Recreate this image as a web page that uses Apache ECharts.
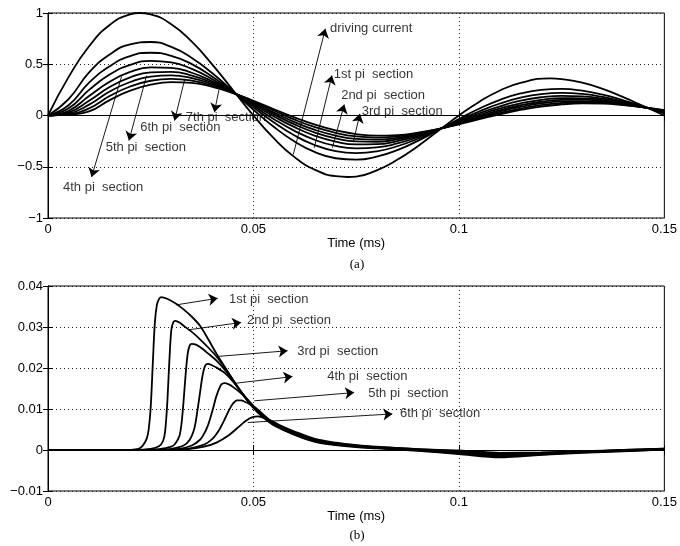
<!DOCTYPE html>
<html>
<head>
<meta charset="utf-8">
<script src="https://cdn.jsdelivr.net/npm/echarts@6/dist/echarts.min.js"></script>
<style>
  html, body { margin: 0; background: #fff; }
  #chart { width: 680px; height: 546px; }
</style>
</head>
<body>
<div id="chart"></div>
<script>
// (a) pi-section currents, sampled every 0.005 ms
const timeA = [0, 0.005, 0.01, 0.015, 0.02, 0.025, 0.03, 0.035, 0.04, 0.045, 0.05,
  0.055, 0.06, 0.065, 0.07, 0.075, 0.08, 0.085, 0.09, 0.095, 0.1,
  0.105, 0.11, 0.115, 0.12, 0.125, 0.13, 0.135, 0.14, 0.145, 0.15];
const sec1 = [0, 0.16, 0.42, 0.595, 0.694, 0.717, 0.669, 0.562, 0.412, 0.237, 0.056, -0.112, -0.254, -0.358, -0.417, -0.431, -0.402, -0.338, -0.247, -0.142, -0.034, 0.068, 0.153, 0.215, 0.250, 0.259, 0.242, 0.203, 0.148, 0.086, 0.020];
const sec2 = [0, 0.10, 0.32, 0.48, 0.580, 0.612, 0.582, 0.501, 0.378, 0.232, 0.079, -0.068, -0.195, -0.290, -0.348, -0.367, -0.350, -0.300, -0.227, -0.140, -0.047, 0.041, 0.117, 0.174, 0.209, 0.220, 0.210, 0.181, 0.136, 0.084, 0.028];
const sec3 = [0, 0.07, 0.25, 0.40, 0.494, 0.533, 0.518, 0.455, 0.354, 0.229, 0.095, -0.036, -0.150, -0.239, -0.297, -0.320, -0.311, -0.273, -0.212, -0.138, -0.057, 0.022, 0.090, 0.144, 0.178, 0.192, 0.187, 0.164, 0.127, 0.083, 0.034];
const sec4 = [0, 0.045, 0.19, 0.33, 0.425, 0.470, 0.465, 0.417, 0.333, 0.226, 0.108, -0.009, -0.114, -0.198, -0.255, -0.282, -0.280, -0.250, -0.200, -0.136, -0.065, 0.006, 0.069, 0.119, 0.153, 0.169, 0.168, 0.151, 0.120, 0.082, 0.039];
const sec5 = [0, 0.03, 0.144, 0.278, 0.372, 0.421, 0.425, 0.389, 0.318, 0.224, 0.119, 0.011, -0.087, -0.167, -0.223, -0.253, -0.256, -0.233, -0.191, -0.135, -0.071, -0.007, 0.052, 0.100, 0.134, 0.152, 0.154, 0.140, 0.114, 0.081, 0.043];
const sec6 = [0, 0.02, 0.106, 0.234, 0.327, 0.380, 0.391, 0.365, 0.305, 0.223, 0.127, 0.028, -0.064, -0.141, -0.196, -0.228, -0.235, -0.219, -0.183, -0.134, -0.076, -0.017, 0.038, 0.084, 0.118, 0.137, 0.141, 0.132, 0.110, 0.080, 0.046];
const sec7 = [0, 0.013, 0.07, 0.19, 0.283, 0.339, 0.357, 0.340, 0.292, 0.221, 0.136, 0.046, -0.041, -0.114, -0.169, -0.204, -0.215, -0.204, -0.175, -0.133, -0.081, -0.027, 0.024, 0.068, 0.102, 0.122, 0.129, 0.123, 0.105, 0.080, 0.049];
const sec8 = [0, 0.008, 0.04, 0.15, 0.242, 0.301, 0.326, 0.318, 0.280, 0.219, 0.144, 0.061, -0.019, -0.090, -0.145, -0.181, -0.196, -0.191, -0.168, -0.132, -0.086, -0.036, 0.012, 0.054, 0.087, 0.108, 0.118, 0.115, 0.101, 0.079, 0.052];

// driving current as [time, value], with its crests read where they sit
const driving = [[0, 0], [0.005, 0.374], [0.01, 0.675], [0.015, 0.883], [0.02, 0.987], [0.0222, 1.0],
  [0.025, 0.986], [0.03, 0.891], [0.035, 0.720], [0.04, 0.497], [0.045, 0.248], [0.05, 0.0],
  [0.055, -0.224], [0.06, -0.406], [0.065, -0.530], [0.07, -0.592], [0.073, -0.600], [0.075, -0.596],
  [0.08, -0.535], [0.085, -0.432], [0.09, -0.299], [0.095, -0.149], [0.1, 0.0], [0.105, 0.135],
  [0.11, 0.244], [0.115, 0.318], [0.1222, 0.362], [0.125, 0.355], [0.13, 0.321], [0.135, 0.260],
  [0.14, 0.179], [0.145, 0.090], [0.15, 0.0]];

// (b) section pulses as [time, value]
const pulse1 = [[0,0],[0.018,0],[0.022,0.0003],[0.023,0.001],[0.024,0.0027],[0.0245,0.005],[0.025,0.0105],[0.0255,0.021],[0.026,0.031],[0.0265,0.0354],[0.027,0.0368],[0.0275,0.0373],[0.029,0.0369],[0.031,0.0358],[0.033,0.0343],[0.035,0.0325],[0.037,0.0303],[0.039,0.0270],[0.041,0.0235],[0.043,0.0203],[0.045,0.0171],[0.047,0.0141],[0.049,0.0114],[0.051,0.0092],[0.053,0.0074],[0.055,0.0060],[0.06,0.0037],[0.065,0.0020],[0.07,0.0012],[0.075,0.0007],[0.08,0.0004],[0.09,-0.0002],[0.1,-0.0010],[0.11,-0.0018],[0.12,-0.0012],[0.13,-0.0007],[0.14,-0.0003],[0.15,0.0001]];
const pulse2 = [[0,0],[0.02,0],[0.025,0.0003],[0.027,0.0009],[0.028,0.0022],[0.0285,0.0045],[0.029,0.011],[0.0295,0.021],[0.03,0.0292],[0.0305,0.0312],[0.031,0.0315],[0.032,0.0311],[0.033,0.0303],[0.035,0.0288],[0.037,0.0270],[0.039,0.0250],[0.041,0.0228],[0.043,0.0201],[0.045,0.0172],[0.047,0.0142],[0.049,0.0116],[0.051,0.0094],[0.053,0.0076],[0.055,0.0061],[0.06,0.0038],[0.065,0.0021],[0.07,0.0013],[0.075,0.0008],[0.08,0.0005],[0.09,-0.0001],[0.1,-0.0008],[0.11,-0.0016],[0.12,-0.0011],[0.13,-0.0006],[0.14,-0.0002],[0.15,0.0001]];
const pulse3 = [[0,0],[0.022,0],[0.027,0.0002],[0.03,0.0008],[0.031,0.0016],[0.032,0.0035],[0.0325,0.0065],[0.033,0.012],[0.0335,0.0185],[0.034,0.0235],[0.0345,0.0255],[0.035,0.0259],[0.036,0.0257],[0.037,0.0251],[0.039,0.0235],[0.041,0.0218],[0.043,0.0196],[0.045,0.0170],[0.047,0.0142],[0.049,0.0117],[0.051,0.0095],[0.053,0.0077],[0.055,0.0062],[0.06,0.0039],[0.065,0.0022],[0.07,0.0014],[0.075,0.0009],[0.08,0.0005],[0.09,0.0000],[0.1,-0.0007],[0.11,-0.0014],[0.12,-0.0010],[0.13,-0.0005],[0.14,-0.0002],[0.15,0.0002]];
const pulse4 = [[0,0],[0.025,0],[0.03,0.0003],[0.033,0.0011],[0.0345,0.0025],[0.0355,0.0048],[0.036,0.0072],[0.0365,0.0105],[0.037,0.014],[0.0375,0.0175],[0.038,0.0199],[0.0385,0.0209],[0.039,0.0210],[0.04,0.0206],[0.041,0.0201],[0.043,0.0188],[0.045,0.0167],[0.047,0.0142],[0.049,0.0118],[0.051,0.0096],[0.053,0.0078],[0.055,0.0063],[0.06,0.0040],[0.065,0.0023],[0.07,0.0015],[0.075,0.0009],[0.08,0.0006],[0.09,0.0000],[0.1,-0.0006],[0.11,-0.0012],[0.12,-0.0009],[0.13,-0.0005],[0.14,-0.0001],[0.15,0.0002]];
const pulse5 = [[0,0],[0.027,0],[0.032,0.0003],[0.035,0.0011],[0.037,0.0025],[0.038,0.004],[0.039,0.0062],[0.04,0.0095],[0.041,0.0132],[0.042,0.0157],[0.0425,0.0162],[0.043,0.0163],[0.044,0.0160],[0.045,0.0154],[0.047,0.0138],[0.049,0.0118],[0.051,0.0097],[0.053,0.0079],[0.055,0.0064],[0.06,0.0041],[0.065,0.0024],[0.07,0.0015],[0.075,0.0010],[0.08,0.0006],[0.09,0.0001],[0.1,-0.0004],[0.11,-0.0010],[0.12,-0.0008],[0.13,-0.0004],[0.14,-0.0001],[0.15,0.0002]];
const pulse6 = [[0,0],[0.028,0],[0.034,0.0003],[0.038,0.0013],[0.04,0.0027],[0.041,0.0039],[0.042,0.0055],[0.043,0.0075],[0.044,0.0096],[0.045,0.0113],[0.046,0.0121],[0.047,0.0121],[0.048,0.0117],[0.049,0.0112],[0.051,0.0099],[0.053,0.0081],[0.055,0.0066],[0.06,0.0042],[0.065,0.0025],[0.07,0.0016],[0.075,0.0011],[0.08,0.0007],[0.09,0.0002],[0.1,-0.0003],[0.11,-0.0009],[0.12,-0.0007],[0.13,-0.0004],[0.14,0.0000],[0.15,0.0003]];
const pulse7 = [[0,0],[0.028,0],[0.034,0.0002],[0.038,0.0008],[0.041,0.0018],[0.044,0.0036],[0.046,0.0053],[0.048,0.0070],[0.049,0.0077],[0.05,0.0081],[0.051,0.0082],[0.052,0.0080],[0.054,0.0073],[0.057,0.0058],[0.06,0.0045],[0.065,0.0027],[0.07,0.0018],[0.075,0.0012],[0.08,0.0008],[0.09,0.0002],[0.1,-0.0001],[0.11,-0.0007],[0.12,-0.0006],[0.13,-0.0003],[0.14,0.0000],[0.15,0.0003]];

// annotations: [label, x, y] and arrows [fromX, fromY, toX, toY]
const notesA = [
  ["driving current", 0.0684, 0.846],
  ["1st pi  section", 0.0693, 0.40],
  ["2nd pi  section", 0.0711, 0.20],
  ["3rd pi  section", 0.0761, 0.04],
  ["7th pi  section", 0.0333, -0.016],
  ["6th pi  section", 0.0222, -0.12],
  ["5th pi  section", 0.0138, -0.31],
  ["4th pi  section", 0.0034, -0.70]
];
const arrowsA = [
  [0.0597, -0.38, 0.0675, 0.846],
  [0.0648, -0.315, 0.0691, 0.39],
  [0.0692, -0.315, 0.0721, 0.107],
  [0.0743, -0.26, 0.0759, 0.016],
  [0.0416, 0.25, 0.0405, 0.032],
  [0.0333, 0.358, 0.0308, -0.049],
  [0.024, 0.39, 0.0197, -0.244],
  [0.0179, 0.38, 0.0106, -0.60]
];
const notesB = [
  ["1st pi  section", 0.0438, 0.0368],
  ["2nd pi  section", 0.0482, 0.0315],
  ["3rd pi  section", 0.0604, 0.0241],
  ["4th pi  section", 0.0677, 0.0180],
  ["5th pi  section", 0.0777, 0.0137],
  ["6th pi  section", 0.0854, 0.0088]
];
const arrowsB = [
  [0.0312, 0.0354, 0.0413, 0.0370],
  [0.0341, 0.0293, 0.0470, 0.0311],
  [0.0410, 0.0228, 0.0583, 0.0242],
  [0.0458, 0.0163, 0.0595, 0.0179],
  [0.0502, 0.0120, 0.0745, 0.0140],
  [0.0486, 0.0067, 0.0838, 0.0088]
];

const FONT = "'Liberation Sans', Arial, Helvetica, sans-serif";
const minus = v => String(+v.toFixed(4)).replace("-", "\u2212");
const dotted = { show: true, lineStyle: { color: "#222", width: 1, type: [1, 3] } };

function xAxes(grid, nameGap) {
  const base = { type: "value", gridIndex: grid, min: 0, max: 0.15, interval: 0.05,
    axisLine: { lineStyle: { color: "#000", width: 1 } },
    axisTick: { inside: true, length: 5, lineStyle: { color: "#000" } } };
  return [
    Object.assign({}, base, {
      position: "bottom", name: "Time (ms)", nameLocation: "middle", nameGap,
      nameTextStyle: { color: "#000", fontSize: 13, fontFamily: FONT },
      axisLabel: { color: "#000", fontSize: 13, fontFamily: FONT, margin: 5, formatter: minus },
      splitLine: dotted
    }),
    Object.assign({}, base, { position: "top", axisLabel: { show: false }, splitLine: { show: false } })
  ];
}
function yAxes(grid, min, max, step) {
  const base = { type: "value", gridIndex: grid, min, max, interval: step,
    axisLine: { show: true, lineStyle: { color: "#000", width: 1 } },
    axisTick: { show: true, inside: true, length: 5, lineStyle: { color: "#000" } } };
  return [
    Object.assign({}, base, {
      position: "left",
      axisLabel: { color: "#000", fontSize: 13, fontFamily: FONT, margin: 5, formatter: minus },
      splitLine: dotted
    }),
    Object.assign({}, base, { position: "right", axisLabel: { show: false }, splitLine: { show: false } })
  ];
}

const lineStyle = { color: "#000", width: 1.8 };
function curve(data, xi, yi, smooth) {
  return { type: "line", xAxisIndex: xi, yAxisIndex: yi, data, smooth, showSymbol: false,
    symbol: "none", lineStyle, silent: true, animation: false, z: 3 };
}
function notes(list, arrows, xi, yi) {
  return {
    type: "scatter", xAxisIndex: xi, yAxisIndex: yi, symbolSize: 0, silent: true, animation: false, z: 4,
    data: list.map(n => ({ name: n[0], value: [n[1], n[2]] })),
    label: { show: true, position: "right", distance: 1, formatter: "{b}",
      color: "#000", fontSize: 13, fontFamily: FONT },
    markLine: {
      silent: true, animation: false, symbol: ["none", "arrow"], symbolSize: 9,
      lineStyle: { color: "#000", width: 0.9, type: "solid" }, label: { show: false },
      data: arrows.map(a => [{ coord: [a[0], a[1]] }, { coord: [a[2], a[3]] }])
    }
  };
}

const zipA = ys => timeA.map((t, i) => [t, ys[i]]);
const series = [curve(driving, 0, 0, 0.5)]
  .concat([sec1, sec2, sec3, sec4, sec5, sec6, sec7, sec8].map(s => curve(zipA(s), 0, 0, 0.5)))
  .concat([pulse1, pulse2, pulse3, pulse4, pulse5, pulse6, pulse7].map(p => curve(p, 2, 2, 0.3)))
  .concat([notes(notesA, arrowsA, 0, 0), notes(notesB, arrowsB, 2, 2)]);

const chart = echarts.init(document.getElementById("chart"), null, { renderer: "canvas" });
chart.setOption({
  animation: false,
  backgroundColor: "#fff",
  grid: [
    { left: 48, right: 14, top: 13, height: 205, show: true, borderColor: "#000", borderWidth: 1 },
    { left: 48, right: 14, top: 286, height: 205, show: true, borderColor: "#000", borderWidth: 1 }
  ],
  xAxis: xAxes(0, 14).concat(xAxes(1, 18)),
  yAxis: yAxes(0, -1, 1, 0.5).concat(yAxes(1, -0.01, 0.04, 0.01)),
  graphic: [
    { type: "text", x: 357, y: 265, style: { text: "(a)", textAlign: "center", textVerticalAlign: "middle",
      font: "13px 'Liberation Serif', 'Times New Roman', serif", fill: "#000" } },
    { type: "text", x: 357, y: 536, style: { text: "(b)", textAlign: "center", textVerticalAlign: "middle",
      font: "13px 'Liberation Serif', 'Times New Roman', serif", fill: "#000" } }
  ],
  series
});
</script>
</body>
</html>
